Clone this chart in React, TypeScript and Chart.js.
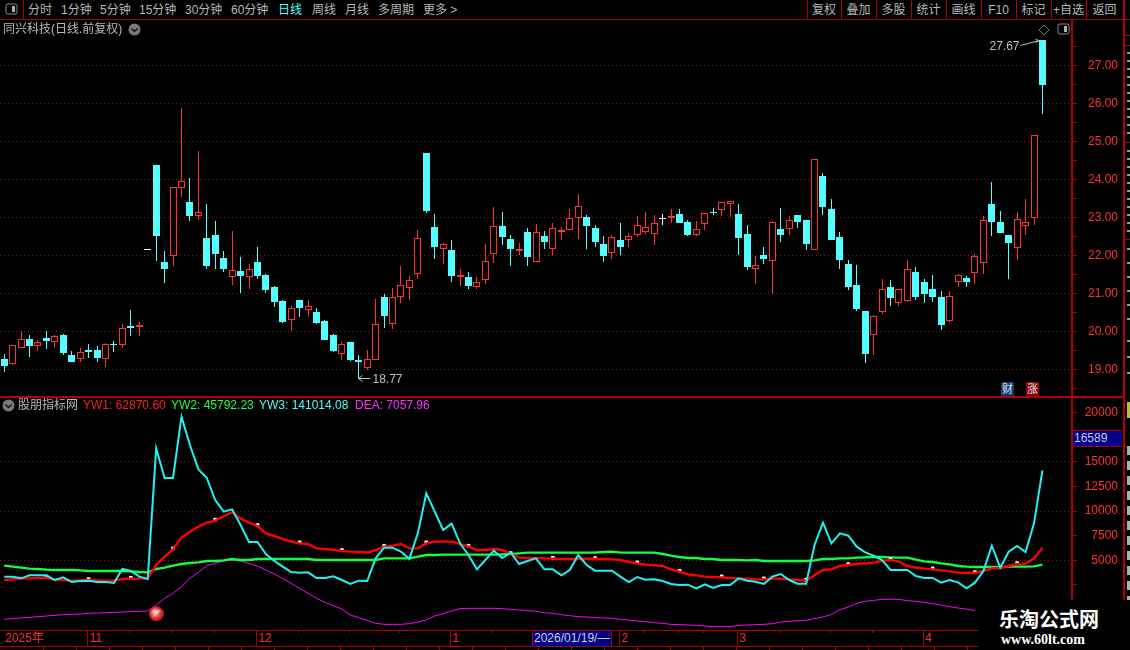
import { useEffect, useRef } from "react";
import { Chart, registerables } from "chart.js";

Chart.register(...registerables);

const highs = [
  19.40,19.64,20.01,19.90,19.77,20.01,19.90,19.93,19.48,19.56,
  19.67,19.61,19.69,19.74,20.19,20.56,20.24,22.16,24.38,22.11,
  23.79,25.88,24.03,24.75,23.35,22.90,22.11,22.64,21.96,21.77,
  22.22,21.51,21.19,20.82,20.67,20.82,20.82,20.61,20.30,19.93,
  19.72,19.72,19.38,19.51,20.85,20.98,21.14,21.72,21.46,22.67,
  24.69,23.09,22.32,22.40,21.64,21.56,21.43,22.30,23.27,23.14,
  22.53,22.32,22.72,22.82,22.64,22.85,22.74,23.22,23.61,23.06,
  22.80,22.51,22.53,22.85,22.59,23.03,23.14,23.06,23.09,23.22,
  23.22,22.93,22.90,23.10,23.24,23.39,23.43,23.35,22.80,21.98,
  22.22,22.90,23.24,23.03,23.06,22.93,24.53,24.17,23.48,22.61,
  21.88,21.74,20.53,20.43,21.38,21.35,21.10,21.88,21.69,21.38,
  21.48,21.06,21.06,21.51,21.46,22.03,23.03,23.93,23.17,22.53,
  23.14,23.48,25.17,27.67,
];
const lows = [
  18.93,19.11,19.57,19.32,19.48,19.53,19.56,19.38,19.19,19.19,
  19.30,19.19,19.06,19.46,19.56,19.88,19.88,22.14,21.85,21.27,
  21.72,23.53,22.90,22.93,21.64,21.64,21.56,21.22,21.01,21.11,
  21.38,21.01,20.64,20.22,20.01,20.38,20.38,20.19,19.77,19.46,
  19.24,19.22,18.77,18.98,19.25,20.09,20.06,20.74,20.82,21.38,
  23.11,21.90,21.77,21.30,21.19,21.11,21.11,21.24,21.80,22.27,
  21.72,22.01,21.72,21.83,22.17,22.01,22.40,22.67,22.43,22.17,
  22.22,21.82,21.90,22.01,22.22,22.48,22.56,22.27,22.80,22.85,
  22.85,22.51,22.51,22.67,23.06,23.03,23.01,22.01,21.61,21.24,
  21.77,20.98,22.35,22.53,22.72,22.14,22.15,23.06,22.40,21.64,
  21.09,20.53,19.17,19.38,20.46,20.67,20.67,20.77,20.82,20.74,
  20.77,20.03,20.24,21.17,21.17,21.24,21.51,22.51,22.59,21.38,
  21.88,22.53,22.80,25.72,
];
const opens = [
  19.27,19.15,19.57,19.80,19.60,19.82,19.73,19.90,19.38,19.28,
  19.51,19.51,19.28,19.67,19.64,20.14,20.11,22.17,24.38,21.82,
  21.99,23.78,23.40,23.04,22.46,22.53,21.93,21.44,21.59,21.44,
  21.82,21.48,21.17,20.80,20.31,20.82,20.57,20.51,20.27,19.90,
  19.41,19.72,19.24,19.04,19.25,20.90,20.20,20.89,21.15,21.50,
  24.69,22.74,22.17,22.14,21.44,21.43,21.17,21.36,22.04,22.77,
  22.43,22.12,22.61,21.83,22.51,22.17,22.62,22.67,22.99,23.01,
  22.72,22.30,22.07,22.40,22.39,22.54,22.62,22.57,22.98,22.99,
  23.09,22.88,22.53,22.83,23.14,23.20,23.34,23.09,22.56,21.65,
  22.01,21.86,22.69,22.70,23.06,22.93,22.15,24.09,23.22,22.48,
  21.77,21.22,20.53,19.91,20.52,21.17,20.75,20.81,21.56,21.30,
  21.11,20.90,20.28,21.31,21.40,21.54,21.81,23.35,22.88,22.53,
  22.20,22.78,22.99,27.67,
];
const closes = [
  19.09,19.63,19.79,19.61,19.71,19.74,19.87,19.43,19.19,19.45,
  19.46,19.30,19.67,19.64,20.08,20.09,20.17,22.15,22.51,21.64,
  23.79,23.95,23.03,23.14,21.72,22.03,21.64,21.60,21.46,21.63,
  21.46,21.09,20.77,20.24,20.60,20.61,20.66,20.22,19.77,19.48,
  19.67,19.24,19.20,19.26,20.18,20.40,20.90,21.21,21.34,22.45,
  23.17,22.22,22.31,21.46,21.48,21.19,21.31,21.84,22.76,22.48,
  22.17,22.17,21.96,22.60,22.35,22.71,22.67,22.97,23.29,22.77,
  22.35,21.98,22.47,22.22,22.50,22.79,22.74,22.84,22.96,23.03,
  22.85,22.53,22.68,23.10,23.11,23.39,23.42,22.46,21.69,21.74,
  21.90,22.87,22.53,22.92,22.88,22.30,24.53,23.27,22.40,21.88,
  21.17,20.59,19.40,20.39,21.10,20.88,21.10,21.63,20.90,20.98,
  20.90,20.17,20.92,21.47,21.30,21.97,22.92,22.88,22.59,22.32,
  22.95,22.87,25.17,26.48,
];

const yw1 = [
  3000,3067,3135,3169,3203,3237,3000,3000,2932,2966,
  3000,2966,2932,2932,3101,3135,3135,3169,4523,5369,
  6114,7299,7908,8416,8822,9025,9499,9871,9228,8822,
  8483,7738,7467,7163,6892,6723,6655,6215,6147,6046,
  5944,5877,5843,5775,6046,6384,6486,6655,6215,6215,
  6723,6892,6892,6892,6655,6384,6046,6046,6147,6046,
  5639,5267,5233,5233,5199,5165,5132,5132,5165,5165,
  5132,5132,5098,5030,4827,4692,4556,4488,4421,4082,
  3845,3574,3473,3338,3304,3270,3202,3168,3134,3067,
  3067,3135,3135,3067,3000,2932,3507,4015,4083,4421,
  4523,4624,4692,4760,4963,5030,4861,4421,4252,4150,
  4083,3981,3880,3744,3710,3710,3913,4184,4218,4421,
  4624,4658,5200,6283,
];
const yw2 = [
  4455,4353,4252,4150,4116,4049,4015,4015,4015,3981,
  3913,3913,3913,3913,3913,3879,3812,3778,4116,4252,
  4455,4624,4726,4793,4929,4929,4997,5132,5030,5030,
  5132,5132,5132,5132,5132,5132,5132,5030,5030,5030,
  5030,5030,5030,5030,5030,5199,5199,5199,5199,5369,
  5538,5538,5572,5572,5572,5572,5572,5572,5572,5605,
  5639,5707,5775,5775,5775,5775,5775,5775,5775,5775,
  5775,5842,5876,5775,5775,5775,5775,5775,5639,5470,
  5334,5233,5233,5132,5132,5030,5030,5030,4996,5030,
  4929,4929,4929,4929,4929,4929,4997,5132,5132,5199,
  5199,5267,5301,5335,5335,5301,5267,5267,5064,4895,
  4827,4692,4590,4421,4353,4319,4319,4319,4319,4353,
  4353,4353,4387,4556,
];
const yw3 = [
  3338,3338,3169,3473,3473,3473,2999,3270,2796,2898,
  2932,2796,2796,2695,4116,3913,3338,3101,16370,13358,
  13358,19586,16709,14238,13358,11123,9939,10176,8585,6858,
  6858,5640,4929,4353,3812,3744,3778,3203,3203,3372,
  2999,2593,2932,2898,5200,6282,6282,5876,5165,7738,
  11800,9938,8076,8720,6722,5538,4082,5030,5978,5233,
  5775,4624,4929,5199,4082,4082,3473,4014,5538,4522,
  3947,3947,3947,3338,2796,3304,3033,3067,2897,2593,
  2491,2525,2153,2559,2187,2491,2491,3168,2931,2830,
  2593,3338,3609,2999,2627,2627,6554,8822,6723,7738,
  7501,6385,5809,5470,5030,4015,4015,4015,3405,3203,
  3203,2728,2999,2762,2153,2728,3913,6486,4252,5877,
  6452,5842,8754,14136,
];
// the last days of DEA sit behind the watermark, so they cannot be read
const dea = [
  -995,-927,-860,-792,-724,-656,-589,-521,-487,-453,
  -386,-352,-318,-284,-250,-216,-182,-149,461,1138,
  1646,2322,3169,3778,4455,4692,4929,5030,4929,4692,
  4421,4015,3609,3135,2661,2153,1646,1138,732,393,
  54,-555,-826,-1097,-1401,-1503,-1503,-1503,-1435,-1266,
  -1063,-657,-420,-149,88,122,122,122,122,88,
  20,-48,-115,-183,-318,-386,-521,-623,-725,-759,
  -826,-860,-894,-995,-1063,-1165,-1232,-1334,-1402,-1503,
  -1537,-1571,-1605,-1672,-1740,-1740,-1740,-1605,-1571,-1537,
  -1503,-1435,-1265,-1198,-1130,-1096,-927,-758,-487,-13,
  258,630,833,935,1036,1036,1036,901,833,732,
  596,461,292,156,54,-115,
];

const priceTicks = [18.5,19,19.5,20,20.5,21,21.5,22,22.5,23,23.5,24,24.5,25,25.5,26,26.5,27,27.5];
const indicatorTicks = [2500,5000,7500,10000,12500,15000,17500,20000];
const hiddenIndicatorLabels = [2500,17500];
const indicatorGrid = [5000,10000,15000];
const monthTicks = [0,10,30,53,73,87,109];
const monthLabels = ["2025年","11","12","1","2","3","4"];
const minorDayTicks = [15,20,25,35,41,47,58,64,70,76,80,83,92,98,103];
const priceNotes = [
  { day: 123, price: 27.67, text: "27.67" },
  { day: 42, price: 18.77, text: "18.77" },
];
const buoyPoint = [{ x: 18, y: -423 }];

const leftTabs: [string, number, string][] = [
  ["分时",28,"#b8b8b8"],["1分钟",61,"#b8b8b8"],["5分钟",100,"#b8b8b8"],["15分钟",139,"#b8b8b8"],
  ["30分钟",185,"#b8b8b8"],["60分钟",231,"#b8b8b8"],["日线",278,"#54ffff"],["周线",312,"#b8b8b8"],
  ["月线",345,"#b8b8b8"],["多周期",378,"#b8b8b8"],["更多 >",423,"#b8b8b8"],
];
const rightTabs: [string, number, number][] = [
  ["复权",807,841],["叠加",841,876],["多股",876,911],["统计",911,946],["画线",946,981],
  ["F10",981,1016],["标记",1016,1051],["+自选",1051,1086],["返回",1086,1123],
];
const indicatorLegend: [string, number, string][] = [
  ["YW1: 62870.60",83,"#ff2020"],["YW2: 45792.23",171,"#20ff40"],
  ["YW3: 141014.08",259,"#50ffff"],["DEA: 7057.96",355,"#ff30ff"],
];

const RED = "#ff3232";
const CYAN = "#54ffff";
const FRAME = "#b00000";
const GRID = "#8c1414";
const FONT = '"Liberation Sans","Noto Sans CJK SC",sans-serif';
const dayCount = 127;

const xy = (values: number[]) => values.map((y, x) => ({ x, y }));

// snap candles to whole pixels, the original is drawn without anti-aliasing
const snapBars = {
  id: "snapBars",
  afterDatasetsUpdate(chart: any) {
    chart.data.datasets.forEach((_: any, i: number) => {
      chart.getDatasetMeta(i).data.forEach((el: any) => {
        el.x = Math.floor(el.x) + 0.5;
        el.y = Math.round(el.y);
        el.base = Math.round(el.base);
        if (el.y === el.base) el.base = el.y + 1;
      });
    });
  },
};

const noteLabels = {
  id: "noteLabels",
  afterDraw(chart: any) {
    const { ctx, scales } = chart;
    ctx.save();
    ctx.font = `12px ${FONT}`;
    ctx.textBaseline = "middle";
    ctx.fillStyle = "#c0c0c0";
    ctx.strokeStyle = "#c0c0c0";
    priceNotes.forEach((n) => {
      const x = Math.floor(scales.x.getPixelForValue(n.day)) + 0.5;
      const y = Math.round(scales.y.getPixelForValue(n.price)) + 0.5;
      ctx.beginPath();
      if (n.day > 60) {
        ctx.moveTo(x - 22, y + 5);
        ctx.lineTo(x - 3, y);
        ctx.moveTo(x - 7, y - 1);
        ctx.lineTo(x - 3, y);
        ctx.lineTo(x - 7, y + 2);
        ctx.stroke();
        ctx.textAlign = "right";
        ctx.fillText(n.text, x - 23, y + 6);
      } else {
        ctx.moveTo(x + 12, y);
        ctx.lineTo(x, y);
        ctx.moveTo(x + 4, y - 3);
        ctx.lineTo(x, y);
        ctx.lineTo(x + 4, y + 3);
        ctx.stroke();
        ctx.textAlign = "left";
        ctx.fillText(n.text, x + 14, y + 1);
      }
    });
    ctx.restore();
  },
};

const dateStrip = {
  id: "dateStrip",
  afterDraw(chart: any) {
    const { ctx, scales, chartArea, height, width } = chart;
    const top = chartArea.bottom;
    ctx.save();
    ctx.strokeStyle = FRAME;
    ctx.beginPath();
    monthTicks.slice(1).forEach((d) => {
      const x = Math.floor(scales.x.getPixelForValue(d)) - 0.5;
      ctx.moveTo(x, top);
      ctx.lineTo(x, top + 16);
    });
    minorDayTicks.forEach((d) => {
      const x = Math.floor(scales.x.getPixelForValue(d)) - 0.5;
      ctx.moveTo(x, top);
      ctx.lineTo(x, top + 3);
    });
    ctx.moveTo(0, top + 0.5);
    ctx.lineTo(width, top + 0.5);
    ctx.moveTo(0, top + 16.5);
    ctx.lineTo(width, top + 16.5);
    for (let x = 43.5; x < width; x += 33) {
      ctx.moveTo(x, top + 16);
      ctx.lineTo(x, height);
    }
    ctx.stroke();
    ctx.font = `12px ${FONT}`;
    ctx.fillStyle = RED;
    ctx.textAlign = "left";
    ctx.textBaseline = "middle";
    monthTicks.forEach((d, i) => {
      ctx.fillText(monthLabels[i], scales.x.getPixelForValue(d) + 1, top + 9);
    });
    ctx.restore();
  },
};

const makeBuoy = () => {
  const c = document.createElement("canvas");
  c.width = 15;
  c.height = 15;
  const g = c.getContext("2d")!;
  const fill = g.createRadialGradient(6, 5, 1, 7.5, 7.5, 7.5);
  fill.addColorStop(0, "#ffc0c0");
  fill.addColorStop(0.55, "#ee4040");
  fill.addColorStop(1, "#b01818");
  g.fillStyle = fill;
  g.beginPath();
  g.arc(7.5, 7.5, 7.5, 0, Math.PI * 2);
  g.fill();
  g.strokeStyle = "rgba(255,235,235,0.8)";
  g.lineWidth = 1.5;
  g.beginPath();
  g.moveTo(4, 6);
  g.lineTo(10, 5);
  g.lineTo(5, 10);
  g.stroke();
  return c;
};

// tick labels may overhang the panel, keep the plot area at the full height
const fitAxis = (width: number) => (s: any) => {
  s.width = width;
  s.paddingTop = 0;
  s.paddingBottom = 0;
};

const yAxisBase = {
  position: "right" as const,
  border: { color: FRAME, width: 2, dash: [1, 3] },
};

const baseOptions = {
  responsive: false,
  animation: false as const,
  devicePixelRatio: 1,
  events: [],
  plugins: { legend: { display: false }, tooltip: { enabled: false }, title: { display: false } },
};

const Label = ({ x, y, color = "#b8b8b8", size = 12, children, style }: any) => (
  <span style={{ position: "absolute", left: x, top: y, color, fontSize: size, lineHeight: "14px", whiteSpace: "nowrap", ...style }}>
    {children}
  </span>
);

const Rule = ({ x, y, w, h, color = FRAME }: any) => (
  <div style={{ position: "absolute", left: x, top: y, width: w, height: h, background: color }} />
);

const RoundChevron = ({ x, y }: { x: number; y: number }) => (
  <svg style={{ position: "absolute", left: x, top: y }} width="13" height="13">
    <circle cx="6.5" cy="6.5" r="6" fill="#7a7a7a" />
    <path d="M3.5 5.5 L6.5 8.5 L9.5 5.5" stroke="#111" strokeWidth="1.4" fill="none" />
  </svg>
);

const PanelIcon = ({ x, y }: { x: number; y: number }) => (
  <svg style={{ position: "absolute", left: x, top: y }} width="13" height="13">
    <rect x="1" y="1" width="11" height="10" rx="2" fill="none" stroke="#8a8a8a" />
    <rect x="7" y="3" width="3" height="6" fill="#b0b0b0" />
  </svg>
);

export default function App() {
  const priceRef = useRef<HTMLCanvasElement>(null);
  const indicatorRef = useRef<HTMLCanvasElement>(null);

  useEffect(() => {
    document.body.style.margin = "0";
    document.body.style.background = "#000";
    if (!priceRef.current || !indicatorRef.current) return;

    const candleColor = (i: number) => {
      if (Math.abs(closes[i] - opens[i]) < 0.03) return "#ffffff";
      return closes[i] > opens[i] ? RED : CYAN;
    };
    const wickColors = opens.map((_, i) => candleColor(i));
    const bodyFill = opens.map((_, i) => (candleColor(i) === RED && Math.abs(closes[i] - opens[i]) > 0.06 ? "#000000" : candleColor(i)));

    const priceChart = new Chart(priceRef.current, {
      type: "bar",
      data: {
        datasets: [
          {
            label: "body",
            data: opens.map((o, i) => ({ x: i, y: [o, closes[i]] })) as any,
            backgroundColor: bodyFill,
            borderColor: wickColors,
            borderWidth: 1,
            borderSkipped: false,
            inflateAmount: 0,
            barThickness: 7,
            grouped: false,
            order: 1,
          },
          {
            label: "wick",
            data: lows.map((l, i) => ({ x: i, y: [l, highs[i]] })) as any,
            backgroundColor: wickColors,
            borderWidth: 0,
            inflateAmount: 0,
            barThickness: 1,
            grouped: false,
            order: 2,
          },
        ],
      },
      options: {
        ...baseOptions,
        layout: { padding: 0 },
        scales: {
          x: { type: "linear", offset: false, min: -0.5, max: dayCount - 0.5, display: false },
          y: {
            ...yAxisBase,
            afterFit: fitAxis(58),
            min: 18.297,
            max: 28.192,
            afterBuildTicks: (s: any) => {
              s.ticks = priceTicks.map((value) => ({ value }));
            },
            grid: {
              color: (c: any) => (Number.isInteger(c.tick?.value) ? GRID : "transparent"),
              tickColor: FRAME,
              tickLength: 5,
              tickBorderDash: [],
            },
            ticks: {
              color: RED,
              font: { family: FONT, size: 12 },
              padding: 11,
              autoSkip: false,
              callback: (v: any) => (Number.isInteger(v) ? Number(v).toFixed(2) : ""),
            },
          },
        },
      } as any,
      plugins: [snapBars, noteLabels] as any,
    });

    const indicatorChart = new Chart(indicatorRef.current, {
      type: "line",
      data: {
        datasets: [
          { label: "YW3", data: xy(yw3), borderColor: "#1cf4f4", borderWidth: 2, order: 1 },
          { label: "YW1", data: xy(yw1), borderColor: "#ff0000", borderWidth: 2.4, order: 2 },
          {
            label: "marks",
            data: yw1.map((y, x) => ({ x, y: x > 0 && x % 5 === 0 ? y + 100 : null })) as any,
            showLine: false,
            pointRadius: (c: any) => (c.dataIndex > 0 && c.dataIndex % 5 === 0 ? 2.5 : 0),
            pointStyle: "rect",
            pointBackgroundColor: "#ffffff",
            pointBorderWidth: 0,
            order: 3,
          },
          { label: "YW2", data: xy(yw2), borderColor: "#12ff3c", borderWidth: 2.4, order: 4 },
          { label: "DEA", data: xy(dea), borderColor: "#ff00ff", borderWidth: 1, order: 5 },
          {
            label: "buoy",
            data: buoyPoint,
            showLine: false,
            pointStyle: makeBuoy(),
            pointRadius: 0.2,
            pointBorderWidth: 0,
            order: 0,
          },
        ],
      },
      options: {
        ...baseOptions,
        // autoPadding would inset the plot for the line overflow
        layout: { autoPadding: false, padding: { bottom: 20, right: 12 } },
        elements: { point: { radius: 0 }, line: { tension: 0, borderJoinStyle: "miter" } },
        scales: {
          x: { type: "linear", min: -0.5, max: dayCount - 0.5, display: false },
          y: {
            ...yAxisBase,
            afterFit: fitAxis(46),
            min: -2078,
            max: 21583,
            afterBuildTicks: (s: any) => {
              s.ticks = indicatorTicks.map((value) => ({ value }));
            },
            grid: {
              color: (c: any) => (indicatorGrid.includes(c.tick?.value) ? GRID : "transparent"),
              tickColor: FRAME,
              tickLength: 5,
              tickBorderDash: [],
            },
            ticks: {
              color: RED,
              font: { family: FONT, size: 12 },
              crossAlign: "far",
              autoSkip: false,
              callback: (v: any) => (hiddenIndicatorLabels.includes(Number(v)) ? "" : String(v)),
            },
          },
        },
      } as any,
      plugins: [dateStrip] as any,
    });

    return () => {
      priceChart.destroy();
      indicatorChart.destroy();
    };
  }, []);

  return (
    <div style={{ position: "fixed", left: 0, top: 0, width: 1130, height: 650, background: "#000", overflow: "hidden", fontFamily: FONT }}>
      <canvas ref={priceRef} width={1130} height={376} style={{ position: "absolute", left: 0, top: 20, width: 1130, height: 376 }} />
      <canvas ref={indicatorRef} width={1130} height={253} style={{ position: "absolute", left: 0, top: 397, width: 1130, height: 253 }} />

      {/* toolbar */}
      <Rule x={0} y={19} w={1130} h={1} />
      <Rule x={23} y={0} w={1} h={19} />
      <PanelIcon x={5} y={3} />
      {leftTabs.map(([t, x, color]) => (
        <Label key={t} x={x} y={3} color={color}>{t}</Label>
      ))}
      {rightTabs.map(([t, l, r]) => (
        <span key={t}>
          <Rule x={l} y={0} w={1} h={19} />
          <Label x={l} y={3} style={{ width: r - l, textAlign: "center" }}>{t}</Label>
        </span>
      ))}

      {/* headers and panel frames */}
      <Label x={3} y={22}>同兴科技(日线.前复权)</Label>
      <RoundChevron x={128} y={23} />
      <svg style={{ position: "absolute", left: 1038, top: 24 }} width="12" height="12">
        <path d="M6 1 L11 6 L6 11 L1 6 Z" fill="none" stroke="#7a7a7a" />
      </svg>
      <PanelIcon x={1057} y={23} />
      <Rule x={0} y={396} w={1123} h={2} />
      <RoundChevron x={2} y={399} />
      <Label x={18} y={398}>股朋指标网</Label>
      {indicatorLegend.map(([t, x, color]) => (
        <Label key={t} x={x} y={398} color={color}>{t}</Label>
      ))}
      <Label x={1001} y={382} color="#e8e8e8" size={11} style={{ background: "#0c3c70", padding: "0 1px" }}>财</Label>
      <Label x={1026} y={382} color="#e8e8e8" size={11} style={{ background: "#8c0000", padding: "0 1px" }}>涨</Label>

      {/* cut-off sidebar */}
      <Rule x={1123} y={0} w={2} h={650} />
      {[35, 45, 142, 239].map((y) => (
        <Rule key={y} x={1125} y={y} w={5} h={1} />
      ))}
      {[52,60,68,76,84,92,100,108,116,124,132,150,158,166,174,182,190,198,206,214,222,230,248,262,276,290,304,318,340,356,372].map((y) => (
        <Rule key={y} x={1127} y={y} w={3} h={2} color="#9a9a9a" />
      ))}
      <Rule x={1127} y={402} w={3} h={16} color="#c8b830" />
      {[446,461,476,491,506,521,536,551,566,581,596].map((y) => (
        <Rule key={y} x={1127} y={y} w={3} h={9} color="#b0b0b0" />
      ))}

      {/* cursor value and date */}
      <div style={{ position: "absolute", left: 1073, top: 430, width: 49, height: 15, background: "#00008b", borderTop: "1px solid #b00000", borderBottom: "1px solid #b00000" }}>
        <Label x={1} y={0} color="#c8c8e0">16589</Label>
      </div>
      <div style={{ position: "absolute", left: 533, top: 631, width: 78, height: 15, background: "#00008b", outline: "1px solid #b00000" }}>
        <Label x={1} y={0} color="#d0d0d0">2026/01/19/—</Label>
      </div>

      {/* watermark */}
      <div style={{ position: "absolute", left: 978, top: 600, width: 152, height: 50, background: "#000" }}>
        <Label x={21} y={8} color="#fff" size={20} style={{ fontWeight: 700, lineHeight: "24px" }}>乐淘公式网</Label>
        <Label x={23} y={33} color="#fff" size={14} style={{ fontWeight: 700, fontFamily: '"Liberation Serif",serif' }}>www.60lt.com</Label>
      </div>
    </div>
  );
}
